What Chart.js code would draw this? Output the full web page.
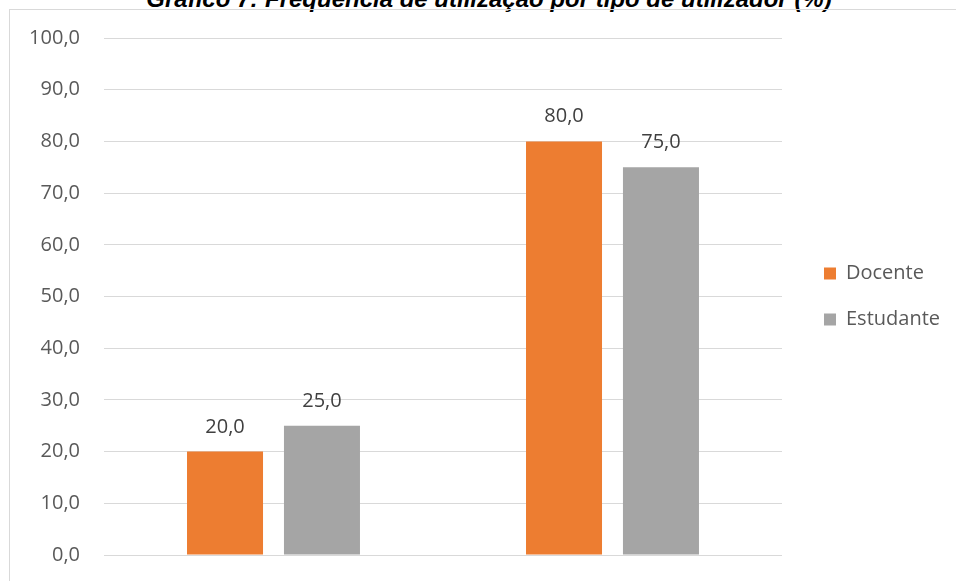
<!DOCTYPE html>
<html>
<head>
<meta charset="utf-8">
<script src="https://cdn.jsdelivr.net/npm/chart.js@4/dist/chart.umd.min.js"></script>
<style>
  html, body { margin: 0; padding: 0; background: #ffffff; overflow: hidden; }
  body { width: 956px; height: 581px; position: relative; }
  #title { position: absolute; left: 0; width: 978px; top: -13px; text-align: center;
           font: italic bold 24px "Liberation Sans", Arial, sans-serif; line-height: 24px; color: #000; white-space: nowrap; }
  #frame { position: absolute; left: 9px; top: 9px; width: 1000px; height: 1000px; border: 1px solid #D9D9D9; }
  #wrap { position: absolute; left: 0; top: 0; width: 956px; height: 581px; }
</style>
</head>
<body>
<div id="title">Gráfico 7: Frequência de utilização por tipo de utilizador (%)</div>
<div id="frame"></div>
<div id="wrap"><canvas id="c" width="956" height="581"></canvas></div>
<script>
const categories = ['', ''];
const seriesNames = ['Docente', 'Estudante'];
const docenteValues = [20.0, 80.0];
const estudanteValues = [25.0, 75.0];
const yTickMin = 0;
const yTickMax = 100;
const yTickStep = 10;

const fmt = v => Number(v).toFixed(1).replace('.', ',');

const valueLabels = {
  id: 'valueLabels',
  afterDatasetsDraw(chart) {
    const ctx = chart.ctx;
    ctx.save();
    ctx.font = '20px "Open Sans"';
    ctx.fillStyle = '#404040';
    ctx.textAlign = 'center';
    ctx.textBaseline = 'alphabetic';
    chart.data.datasets.forEach((ds, i) => {
      const meta = chart.getDatasetMeta(i);
      meta.data.forEach((bar, j) => {
        ctx.fillText(fmt(ds.data[j]), bar.x, bar.y - 19);
      });
    });
    ctx.restore();
  }
};

const legendShift = {
  id: 'legendShift',
  afterLayout(chart) {
    if (chart.legend) { chart.legend.left += 16; chart.legend.right += 16; }
  }
};

new Chart(document.getElementById('c'), {
  type: 'bar',
  data: {
    labels: categories,
    datasets: [
      { label: seriesNames[0], data: docenteValues, backgroundColor: '#ED7D31', categoryPercentage: 0.572, barPercentage: 0.784 },
      { label: seriesNames[1], data: estudanteValues, backgroundColor: '#A5A5A5', categoryPercentage: 0.572, barPercentage: 0.784 }
    ]
  },
  options: {
    responsive: false,
    animation: false,
    layout: { padding: { left: 24, top: 38, bottom: 26, right: 22 } },
    scales: {
      x: { display: false },
      y: {
        min: yTickMin, max: yTickMax,
        afterFit(scale) { scale.width = 80; },
        border: { display: false },
        grid: { color: '#D9D9D9', lineWidth: 1, drawTicks: true, tickLength: 24, tickColor: 'rgba(0,0,0,0)' },
        ticks: { stepSize: yTickStep, padding: 0, color: '#595959', font: { family: 'Open Sans', size: 20 }, callback: v => fmt(v) }
      }
    },
    plugins: {
      tooltip: { enabled: false },
      title: { display: false },
      legend: {
        position: 'right', align: 'center',
        labels: { boxWidth: 12, boxHeight: 12, padding: 26, color: '#595959', font: { family: 'Open Sans', size: 20 } }
      }
    }
  },
  plugins: [valueLabels, legendShift]
});
</script>
</body>
</html>
